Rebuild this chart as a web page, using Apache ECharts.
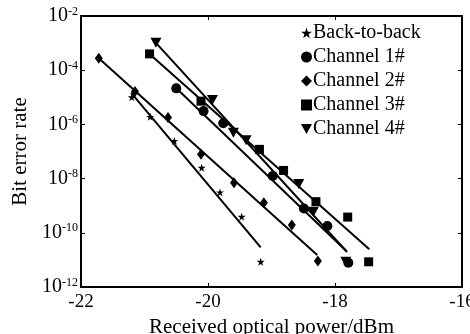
<!DOCTYPE html>
<html><head><meta charset="utf-8">
<script src="https://cdn.jsdelivr.net/npm/echarts@6/dist/echarts.min.js"></script>
<style>html,body{margin:0;padding:0;background:#fff}#c{width:470px;height:334px}</style>
</head><body><div id="c"></div>
<script>
// Measured points: [power dBm, BER]
const btbX = [-21.20, -20.91, -20.53, -20.10, -19.81, -19.47, -19.17];
const btbY = [1.0e-5, 1.9e-6, 2.45e-7, 2.5e-8, 3.1e-9, 3.9e-10, 8.5e-12];
const ch1X = [-20.50, -20.07, -19.76, -18.98, -18.49, -18.12, -17.79];
const ch1Y = [2.14e-5, 3.09e-6, 1.10e-6, 1.26e-8, 7.9e-10, 1.78e-10, 7.9e-12];
const ch2X = [-21.72, -21.15, -20.63, -20.11, -19.59, -19.12, -18.68, -18.27];
const ch2Y = [2.75e-4, 1.62e-5, 1.78e-6, 7.9e-8, 7.1e-9, 1.29e-9, 1.95e-10, 9.1e-12];
const ch3X = [-20.92, -20.11, -19.19, -18.81, -18.30, -17.80, -17.47];
const ch3Y = [4.0e-4, 7.2e-6, 1.2e-7, 2.0e-8, 1.41e-9, 3.8e-10, 8.5e-12];
const ch4X = [-20.82, -19.93, -19.60, -19.40, -18.57, -18.34, -17.83];
const ch4Y = [1.02e-3, 7.9e-6, 4.9e-7, 2.6e-7, 6.3e-9, 6.0e-10, 8.5e-12];
// Fitted lines: endpoints [x0, x1], [y0, y1]
const fitBtbX = [-21.21, -19.17], fitBtbY = [1.45e-5, 2.9e-11];
const fitCh1X = [-20.47, -17.83], fitCh1Y = [1.86e-5, 2.24e-11];
const fitCh2X = [-21.72, -18.28], fitCh2Y = [2.75e-4, 1.51e-11];
const fitCh3X = [-20.92, -17.46], fitCh3Y = [4.0e-4, 2.45e-11];
const fitCh4X = [-20.82, -17.81], fitCh4Y = [1.02e-3, 1.95e-11];
const seriesNames = ['Back-to-back', 'Channel 1#', 'Channel 2#', 'Channel 3#', 'Channel 4#'];
const xTicks = [-22, -20, -18, -16];

const zip = (a, b) => a.map((v, i) => [v, b[i]]);
const STAR = 'path://M5,0 L6.2,3.6 L10,3.6 L6.9,5.8 L8.1,9.5 L5,7.2 L1.9,9.5 L3.1,5.8 L0,3.6 L3.8,3.6 Z';
const TRI = 'path://M0,0 L10,0 L5,9 Z';
const FONT = 'Liberation Serif';
const pts = [
  {x: btbX, y: btbY, sym: STAR, size: 8},
  {x: ch1X, y: ch1Y, sym: 'circle', size: 10},
  {x: ch2X, y: ch2Y, sym: 'diamond', size: [8, 11]},
  {x: ch3X, y: ch3Y, sym: 'rect', size: 9},
  {x: ch4X, y: ch4Y, sym: TRI, size: [11, 10]}
];
const fits = [[fitBtbX, fitBtbY], [fitCh1X, fitCh1Y], [fitCh2X, fitCh2Y], [fitCh3X, fitCh3Y], [fitCh4X, fitCh4Y]];
const series = [];
fits.forEach((f, i) => series.push({
  type: 'line', name: 'fit' + i, data: zip(f[0], f[1]), showSymbol: false, symbol: 'none',
  lineStyle: {color: '#000', width: 2}, silent: true, z: 2
}));
pts.forEach((p, i) => series.push({
  type: 'scatter', name: seriesNames[i], data: zip(p.x, p.y), symbol: p.sym, symbolSize: p.size,
  itemStyle: {color: '#000', opacity: 1}, z: 3
}));
const yLab = v => '{b|10}{s|' + Math.round(Math.log10(v)) + '}';
const chart = echarts.init(document.getElementById('c'), null, {renderer: 'canvas'});
chart.setOption({
  animation: false,
  backgroundColor: '#fff',
  grid: {left: 81, right: 8, top: 16, bottom: 47, containLabel: false, outerBoundsMode: 'none'},
  legend: {
    orient: 'vertical', left: 296, top: 18, itemGap: 4, itemWidth: 11, itemHeight: 11,
    data: seriesNames.map((n, i) => ({name: n, icon: pts[i].sym})),
    textStyle: {fontFamily: FONT, fontSize: 20, color: '#000', padding: [0, 0, 0, -4], lineHeight: 20},
    itemStyle: {color: '#000'}
  },
  xAxis: [{
    type: 'value', min: xTicks[0], max: xTicks[xTicks.length - 1], interval: 2,
    name: 'Received optical power/dBm', nameLocation: 'middle', nameGap: 25,
    nameTextStyle: {fontFamily: FONT, fontSize: 21, color: '#000'},
    axisLine: {lineStyle: {color: '#000', width: 2}},
    axisTick: {inside: true, length: 4, lineStyle: {color: '#000', width: 1}},
    axisLabel: {fontFamily: FONT, fontSize: 19, color: '#000', margin: 6},
    splitLine: {show: false}
  }, {
    type: 'value', position: 'top', min: xTicks[0], max: xTicks[xTicks.length - 1], interval: 2,
    axisLine: {show: true, lineStyle: {color: '#000', width: 2}},
    axisTick: {inside: true, length: 4, lineStyle: {color: '#000'}},
    axisLabel: {show: false}, splitLine: {show: false}
  }],
  yAxis: [{
    type: 'log', logBase: 10, min: 1e-12, max: 1e-2, interval: 2,
    name: 'Bit error rate', nameLocation: 'middle', nameGap: 47,
    nameTextStyle: {fontFamily: FONT, fontSize: 21, color: '#000'},
    axisLine: {show: true, lineStyle: {color: '#000', width: 2}},
    axisTick: {show: true, inside: true, length: 4, lineStyle: {color: '#000'}},
    axisLabel: {
      margin: 3, formatter: yLab,
      rich: {
        b: {fontFamily: FONT, fontSize: 20, color: '#000'},
        s: {fontFamily: FONT, fontSize: 12, color: '#000', verticalAlign: 'top', padding: [0, 0, 9, 0]}
      }
    },
    splitLine: {show: false}, minorTick: {show: false}
  }, {
    type: 'log', logBase: 10, min: 1e-12, max: 1e-2, interval: 2, position: 'right',
    axisLine: {show: true, lineStyle: {color: '#000', width: 2}},
    axisTick: {show: true, inside: true, length: 4, lineStyle: {color: '#000'}},
    axisLabel: {show: false}, splitLine: {show: false}
  }],
  series: series
});
</script></body></html>
